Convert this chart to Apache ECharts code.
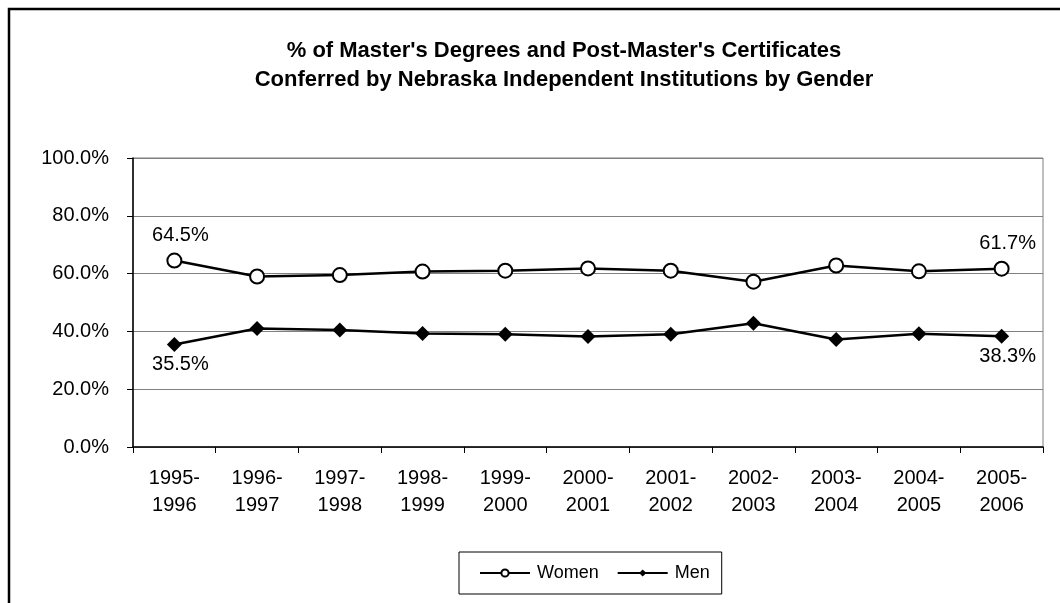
<!DOCTYPE html>
<html>
<head>
<meta charset="utf-8">
<script src="https://cdn.jsdelivr.net/npm/echarts@6/dist/echarts.min.js"></script>
<style>
    html, body { margin: 0; padding: 0; background: #fff; }
    #chart { width: 1060px; height: 603px; }
</style>
</head>
<body>
<div id="chart"></div>
<script>
const years = ['1995-\n1996', '1996-\n1997', '1997-\n1998', '1998-\n1999', '1999-\n2000', '2000-\n2001',
    '2001-\n2002', '2002-\n2003', '2003-\n2004', '2004-\n2005', '2005-\n2006'];
const women = [64.5, 59.0, 59.5, 60.7, 61.0, 61.8, 61.0, 57.2, 62.8, 60.8, 61.7];
const men = [35.5, 41.0, 40.5, 39.3, 39.0, 38.2, 39.0, 42.8, 37.2, 39.2, 38.3];
const yTicks = [0, 20, 40, 60, 80, 100];

const font = 'Arial, "Liberation Sans", sans-serif';

// only first and last points carry a label
const endLabel = (pos, dist) => ({
    show: true,
    position: pos,
    distance: dist,
    offset: [6, 0],
    color: '#000',
    fontFamily: font,
    fontSize: 20,
    formatter: (p) => (p.dataIndex === 0 || p.dataIndex === years.length - 1) ? p.value.toFixed(1) + '%' : ''
});

const chart = echarts.init(document.getElementById('chart'));
chart.setOption({
    backgroundColor: '#fff',
    animation: false,
    title: {
        text: "% of Master's Degrees and Post-Master's Certificates\nConferred by Nebraska Independent Institutions by Gender",
        left: 559,
        top: 31,
        textAlign: 'center',
        textStyle: {
            color: '#000',
            fontFamily: font,
            fontSize: 22,
            fontWeight: 'bold',
            lineHeight: 29
        }
    },
    graphic: [{
        type: 'rect',
        shape: { x: 9, y: 9, width: 1200, height: 800 },
        style: { fill: 'none', stroke: '#000', lineWidth: 2.5 },
        silent: true
    }],
    legend: {
        data: ['Women', 'Men'],
        left: 459,
        top: 552,
        padding: [12, 12, 12, 20],
        itemGap: 18,
        itemWidth: 50,
        itemHeight: 9,
        borderColor: '#000',
        borderWidth: 1,
        textStyle: { color: '#000', fontFamily: font, fontSize: 18, padding: [0, 0, 0, 2] }
    },
    grid: {
        left: 133,
        right: 17,
        top: 158,
        bottom: 156,
        show: true,
        borderColor: '#808080',
        borderWidth: 1
    },
    xAxis: {
        type: 'category',
        data: years,
        boundaryGap: true,
        axisLine: { lineStyle: { color: '#000', width: 1.5 } },
        axisTick: { show: true, length: 6, lineStyle: { color: '#000' } },
        axisLabel: {
            color: '#000',
            fontFamily: font,
            fontSize: 20,
            lineHeight: 27,
            margin: 18,
            interval: 0
        }
    },
    yAxis: {
        type: 'value',
        min: yTicks[0],
        max: yTicks[yTicks.length - 1],
        interval: 20,
        axisLine: { show: true, lineStyle: { color: '#000', width: 1.5 } },
        axisTick: { show: true, length: 6, lineStyle: { color: '#000' } },
        splitLine: { lineStyle: { color: '#808080', width: 1 } },
        axisLabel: {
            color: '#000',
            fontFamily: font,
            fontSize: 20,
            margin: 24,
            formatter: (v) => v.toFixed(1) + '%'
        }
    },
    series: [
        {
            name: 'Women',
            type: 'line',
            data: women,
            symbol: 'emptyCircle',
            symbolSize: 14,
            lineStyle: { color: '#000', width: 2.5 },
            itemStyle: { color: '#000', borderColor: '#000', borderWidth: 1.8 },
            label: endLabel('top', 7),
            z: 3
        },
        {
            name: 'Men',
            type: 'line',
            data: men,
            symbol: 'diamond',
            symbolSize: 15,
            lineStyle: { color: '#000', width: 2.5 },
            itemStyle: { color: '#000' },
            label: endLabel('bottom', 3),
            z: 3
        }
    ]
});
</script>
</body>
</html>
